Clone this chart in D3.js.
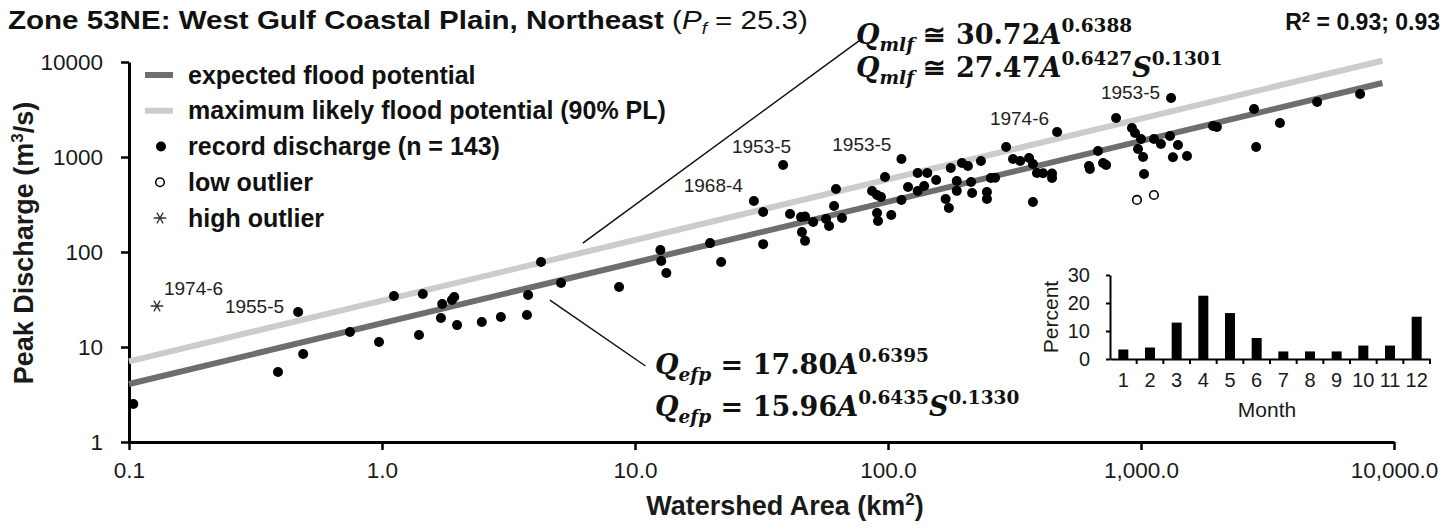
<!DOCTYPE html>
<html>
<head>
<meta charset="utf-8">
<script src="https://cdn.jsdelivr.net/npm/d3@7"></script>
<style>
  body { margin: 0; background: #fff; }
  svg { display: block; font-family: "Liberation Sans", Arial, sans-serif; }
</style>
</head>
<body>
<svg id="chart" width="1449" height="529"></svg>
<script>
// Record discharge at gauged sites: watershed area (km²) and peak discharge (m³/s)
const areaKm2 = [
  0.104, 0.388, 0.466, 0.488, 0.747, 0.973, 1.115, 1.40, 1.45, 1.71,
  1.73, 1.89, 1.93, 1.98, 2.48, 2.95, 3.74, 3.78, 4.25, 5.10,
  8.65, 12.6, 12.7, 13.3, 19.8, 21.9, 29.5, 32.1, 32.1, 38.5,
  41.0, 45.3, 47.0, 45.7, 47.0, 50.6, 56.9, 58.5, 62.3, 61.2,
  65.8, 86.5, 90.5, 93.8, 90.5, 91.3, 103, 97.3, 113, 113,
  120, 131, 131, 143, 139, 155, 169, 174, 177, 187,
  187, 196, 207, 213, 215, 233, 246, 246, 255, 265,
  293, 312, 333, 361, 374, 374, 388, 410, 445, 445,
  466, 623, 628, 676, 708, 728, 797, 921, 947, 1000,
  973, 1019, 1028, 1125, 1199, 1302, 1400, 1337, 1520, 1315,
  1927, 1995, 2798, 2851, 3542, 4966, 7345
];
const peakCms = [
  2.51, 5.46, 23.4, 8.44, 14.4, 11.3, 34.4, 13.4, 36.1, 20.2,
  28.4, 31.2, 33.6, 17.0, 18.3, 20.7, 21.7, 35.3, 78.5, 47.2,
  42.8, 105, 80.4, 60.1, 124, 78.5, 344, 264, 121, 824,
  251, 234, 236, 162, 131, 207, 223, 188, 460, 305,
  228, 439, 398, 379, 257, 212, 245, 616, 353, 953,
  483, 678, 439, 680, 495, 573, 361, 291, 766, 559,
  440, 865, 804, 546, 418, 908, 428, 362, 601, 605,
  1275, 953, 908, 976, 844, 336, 678, 675, 670, 601,
  1834, 804, 747, 1156, 865, 824, 2574, 2020, 1790, 1546,
  1214, 1000, 662, 1550, 1371, 1663, 1337, 995, 1025, 4178,
  2120, 2069, 3201, 1275, 2280, 3793, 4605
];
const lowOutlierArea = [964, 1125];
const lowOutlierPeak = [353, 398];
const highOutlierArea = [0.129];
const highOutlierPeak = [27.0];

// Dated events (year-month) called out on the plot
const eventLabels = ["1974-6", "1955-5", "1968-4", "1953-5", "1953-5", "1974-6", "1953-5"];
const eventArea = [0.129, 0.466, 29.5, 38.5, 113, 466, 1315];
const eventPeak = [27.0, 23.4, 344, 824, 953, 1834, 4178];

// Envelope curves Q = c * A^b
const efpCoef = 17.80, efpExp = 0.6395;
const mlfCoef = 30.72, mlfExp = 0.6388;
const curveAreaRange = [0.1, 9000];

// Month of record discharge, percent of events
const monthLabels = ["1", "2", "3", "4", "5", "6", "7", "8", "9", "10", "11", "12"];
const monthPercent = [3.4, 4.1, 13.0, 22.6, 16.4, 7.5, 2.7, 2.7, 2.7, 4.8, 4.8, 15.1];

// Axis ticks
const xTickValues = [0.1, 1, 10, 100, 1000, 10000];
const xTickLabels = ["0.1", "1.0", "10.0", "100.0", "1,000.0", "10,000.0"];
const yTickValues = [1, 10, 100, 1000, 10000];
const yTickLabels = ["1", "10", "100", "1000", "10000"];
const insetTickValues = [0, 10, 20, 30];

const legendLabels = [
  "expected flood potential",
  "maximum likely flood potential (90% PL)",
  "record discharge (n = 143)",
  "low outlier",
  "high outlier"
];

// ---------------------------------------------------------------
const svg = d3.select("#chart");
const SANS = '"Liberation Sans", Arial, sans-serif';
const SERIF = '"DejaVu Serif", serif';
const DARK = "#6e6e6e", LIGHT = "#cccccc";

const x = d3.scaleLog().domain([0.1, 10000]).range([129, 1394]);
const y = d3.scaleLog().domain([1, 10000]).range([442, 62]);

// axes
const gx = svg.append("g")
  .attr("transform", `translate(0,${y(1)})`)
  .call(d3.axisBottom(x).tickValues(xTickValues)
    .tickFormat((d, i) => xTickLabels[i])
    .tickSize(8).tickSizeOuter(0).tickPadding(12));
const gy = svg.append("g")
  .attr("transform", `translate(${x(0.1)},0)`)
  .call(d3.axisLeft(y).tickValues(yTickValues)
    .tickFormat((d, i) => yTickLabels[i])
    .tickSize(8).tickSizeOuter(0).tickPadding(18));
[gx, gy].forEach(g => {
  g.select(".domain").attr("stroke", "#000").attr("stroke-width", 3);
  g.selectAll(".tick line").attr("stroke", "#000").attr("stroke-width", 2.5);
  g.selectAll(".tick text").attr("font-family", SANS).attr("font-size", 22.5).attr("fill", "#1a1a1a");
});

// axis titles
svg.append("text")
  .attr("x", 785).attr("y", 515)
  .attr("text-anchor", "middle")
  .attr("font-family", SANS).attr("font-size", 27).attr("font-weight", "bold")
  .attr("fill", "#1a1a1a")
  .html('Watershed Area (km<tspan dy="-10" font-size="17">2</tspan><tspan dy="10">)</tspan>');
svg.append("text")
  .attr("transform", "translate(33,243) rotate(-90)")
  .attr("text-anchor", "middle")
  .attr("font-family", SANS).attr("font-size", 27).attr("font-weight", "bold")
  .attr("fill", "#1a1a1a")
  .html('Peak Discharge (m<tspan dy="-10" font-size="17">3</tspan><tspan dy="10">/s)</tspan>');

// title, widened to span the header
const title = svg.append("text")
  .attr("font-family", SANS).attr("font-size", 25).attr("fill", "#111")
  .html('<tspan font-weight="bold">Zone 53NE: West Gulf Coastal Plain, Northeast</tspan> (<tspan font-style="italic">P</tspan><tspan font-style="italic" font-size="16" dy="5">f</tspan><tspan dy="-5"> = 25.3)</tspan>');
const titleWidth = title.node().getComputedTextLength();
title.attr("transform", `translate(8,29) scale(${800 / titleWidth},1)`);

svg.append("text")
  .attr("x", 1440).attr("y", 30)
  .attr("text-anchor", "end")
  .attr("font-family", SANS).attr("font-size", 23).attr("font-weight", "bold").attr("fill", "#111")
  .html('R<tspan dy="-8" font-size="15">2</tspan><tspan dy="8"> = 0.93; 0.93</tspan>');

// envelope curves (straight in log-log space)
const curve = (c, b) => curveAreaRange.map(a => [x(a), y(c * Math.pow(a, b))]);
svg.append("path").attr("d", d3.line()(curve(mlfCoef, mlfExp)))
  .attr("stroke", LIGHT).attr("stroke-width", 6).attr("fill", "none");
svg.append("path").attr("d", d3.line()(curve(efpCoef, efpExp)))
  .attr("stroke", DARK).attr("stroke-width", 6).attr("fill", "none");

// leader lines from the curves to their equations
const leaders = [
  [[6.22, 124], [77.5, 17000]],
  [[4.61, 31.2], [11.0, 6.31]]
];
leaders.forEach(l => svg.append("line")
  .attr("x1", x(l[0][0])).attr("y1", y(l[0][1]))
  .attr("x2", x(l[1][0])).attr("y2", y(l[1][1]))
  .attr("stroke", "#111").attr("stroke-width", 1.5));

// record discharge points
svg.append("g").selectAll("circle")
  .data(areaKm2.map((a, i) => [a, peakCms[i]]))
  .join("circle")
  .attr("cx", d => x(d[0])).attr("cy", d => y(d[1])).attr("r", 5)
  .attr("fill", "#000");
svg.append("g").selectAll("circle")
  .data(lowOutlierArea.map((a, i) => [a, lowOutlierPeak[i]]))
  .join("circle")
  .attr("cx", d => x(d[0])).attr("cy", d => y(d[1])).attr("r", 4.3)
  .attr("fill", "#fff").attr("stroke", "#000").attr("stroke-width", 1.6);
const asterisk = d3.symbol().type(d3.symbolAsterisk).size(110);
svg.append("g").selectAll("path")
  .data(highOutlierArea.map((a, i) => [a, highOutlierPeak[i]]))
  .join("path")
  .attr("transform", d => `translate(${x(d[0])},${y(d[1])}) rotate(90)`)
  .attr("d", asterisk).attr("stroke", "#333").attr("stroke-width", 1.3).attr("fill", "none");

// event labels
const eventOffset = [[7, -11, "start"], [-14, 1, "end"], [-11, -9, "end"], [8, -12, "end"],
                     [-10, -8, "end"], [-8, -7, "end"], [-11, 1, "end"]];
svg.append("g").selectAll("text")
  .data(eventLabels)
  .join("text")
  .attr("x", (d, i) => x(eventArea[i]) + eventOffset[i][0])
  .attr("y", (d, i) => y(eventPeak[i]) + eventOffset[i][1])
  .attr("text-anchor", (d, i) => eventOffset[i][2])
  .attr("font-family", SANS).attr("font-size", 19).attr("fill", "#222")
  .text(d => d);

// equations
function equation(x0, y0, parts) {
  const t = svg.append("text").attr("x", x0).attr("y", y0)
    .attr("font-family", SERIF).attr("font-weight", "bold").attr("font-size", 27).attr("fill", "#111");
  let shift = 0;
  parts.forEach(p => {
    const target = p.pos === "sub" ? 7 : p.pos === "sup" ? -12 : 0;
    t.append("tspan")
      .attr("dy", target - shift)
      .attr("font-style", p.it ? "italic" : "normal")
      .attr("font-size", p.pos ? 18.5 : 27)
      .text(p.t);
    shift = target;
  });
}
equation(856, 44, [{t: "Q", it: 1}, {t: "mlf", it: 1, pos: "sub"}, {t: " ≅ 30.72"}, {t: "A", it: 1}, {t: "0.6388", pos: "sup"}]);
equation(856, 77, [{t: "Q", it: 1}, {t: "mlf", it: 1, pos: "sub"}, {t: " ≅ 27.47"}, {t: "A", it: 1}, {t: "0.6427", pos: "sup"}, {t: "S", it: 1}, {t: "0.1301", pos: "sup"}]);
equation(655, 374, [{t: "Q", it: 1}, {t: "efp", it: 1, pos: "sub"}, {t: " = 17.80"}, {t: "A", it: 1}, {t: "0.6395", pos: "sup"}]);
equation(655, 416, [{t: "Q", it: 1}, {t: "efp", it: 1, pos: "sub"}, {t: " = 15.96"}, {t: "A", it: 1}, {t: "0.6435", pos: "sup"}, {t: "S", it: 1}, {t: "0.1330", pos: "sup"}]);

// legend
const legend = svg.append("g");
const rowY = d3.scalePoint().domain(d3.range(legendLabels.length)).range([75, 218]);
legendLabels.forEach((label, i) => {
  const cy = rowY(i);
  if (i < 2) {
    legend.append("line").attr("x1", 145).attr("x2", 173).attr("y1", cy).attr("y2", cy)
      .attr("stroke", i === 0 ? DARK : LIGHT).attr("stroke-width", 6);
  } else if (i === 2) {
    legend.append("circle").attr("cx", 161).attr("cy", cy).attr("r", 5).attr("fill", "#000");
  } else if (i === 3) {
    legend.append("circle").attr("cx", 160).attr("cy", cy).attr("r", 4.3)
      .attr("fill", "#fff").attr("stroke", "#000").attr("stroke-width", 1.6);
  } else {
    legend.append("path").attr("transform", `translate(160,${cy}) rotate(90)`).attr("d", asterisk)
      .attr("stroke", "#333").attr("stroke-width", 1.3).attr("fill", "none");
  }
  legend.append("text").attr("x", 188).attr("y", cy + 8.5)
    .attr("font-family", SANS).attr("font-size", 25).attr("font-weight", "bold").attr("fill", "#111")
    .text(label);
});

// inset: month of record discharge
const ix = d3.scaleBand().domain(monthLabels).range([1110, 1430]);
const iy = d3.scaleLinear().domain([0, 30]).range([359, 275]);
const inset = svg.append("g");
inset.selectAll("rect").data(monthPercent).join("rect")
  .attr("x", (d, i) => ix(monthLabels[i]) + ix.bandwidth() / 2 - 5)
  .attr("width", 10)
  .attr("y", d => iy(d)).attr("height", d => iy(0) - iy(d))
  .attr("fill", "#000");
const giy = inset.append("g").attr("transform", "translate(1110,0)")
  .call(d3.axisLeft(iy).tickValues(insetTickValues).tickSize(4).tickSizeOuter(0).tickPadding(16));
giy.select(".domain").attr("stroke", "#000").attr("stroke-width", 2);
giy.selectAll(".tick line").attr("stroke", "#000").attr("stroke-width", 2);
giy.selectAll(".tick text").attr("font-family", SANS).attr("font-size", 20).attr("fill", "#1a1a1a");
const gix = inset.append("g").attr("transform", `translate(0,${iy(0)})`)
  .call(d3.axisBottom(ix).tickSize(0).tickSizeOuter(0).tickPadding(14));
gix.select(".domain").attr("stroke", "#000").attr("stroke-width", 2);
gix.selectAll(".tick text").attr("font-family", SANS).attr("font-size", 20).attr("fill", "#1a1a1a");
inset.append("g").selectAll("line").data(monthLabels).join("line")
  .attr("x1", d => ix(d) + ix.bandwidth()).attr("x2", d => ix(d) + ix.bandwidth())
  .attr("y1", iy(0)).attr("y2", iy(0) + 5)
  .attr("stroke", "#000").attr("stroke-width", 2);
inset.append("text").attr("x", 1267).attr("y", 417).attr("text-anchor", "middle")
  .attr("font-family", SANS).attr("font-size", 21).attr("fill", "#1a1a1a").text("Month");
inset.append("text").attr("transform", "translate(1058,317) rotate(-90)").attr("text-anchor", "middle")
  .attr("font-family", SANS).attr("font-size", 21).attr("fill", "#1a1a1a").text("Percent");
</script>
</body>
</html>
